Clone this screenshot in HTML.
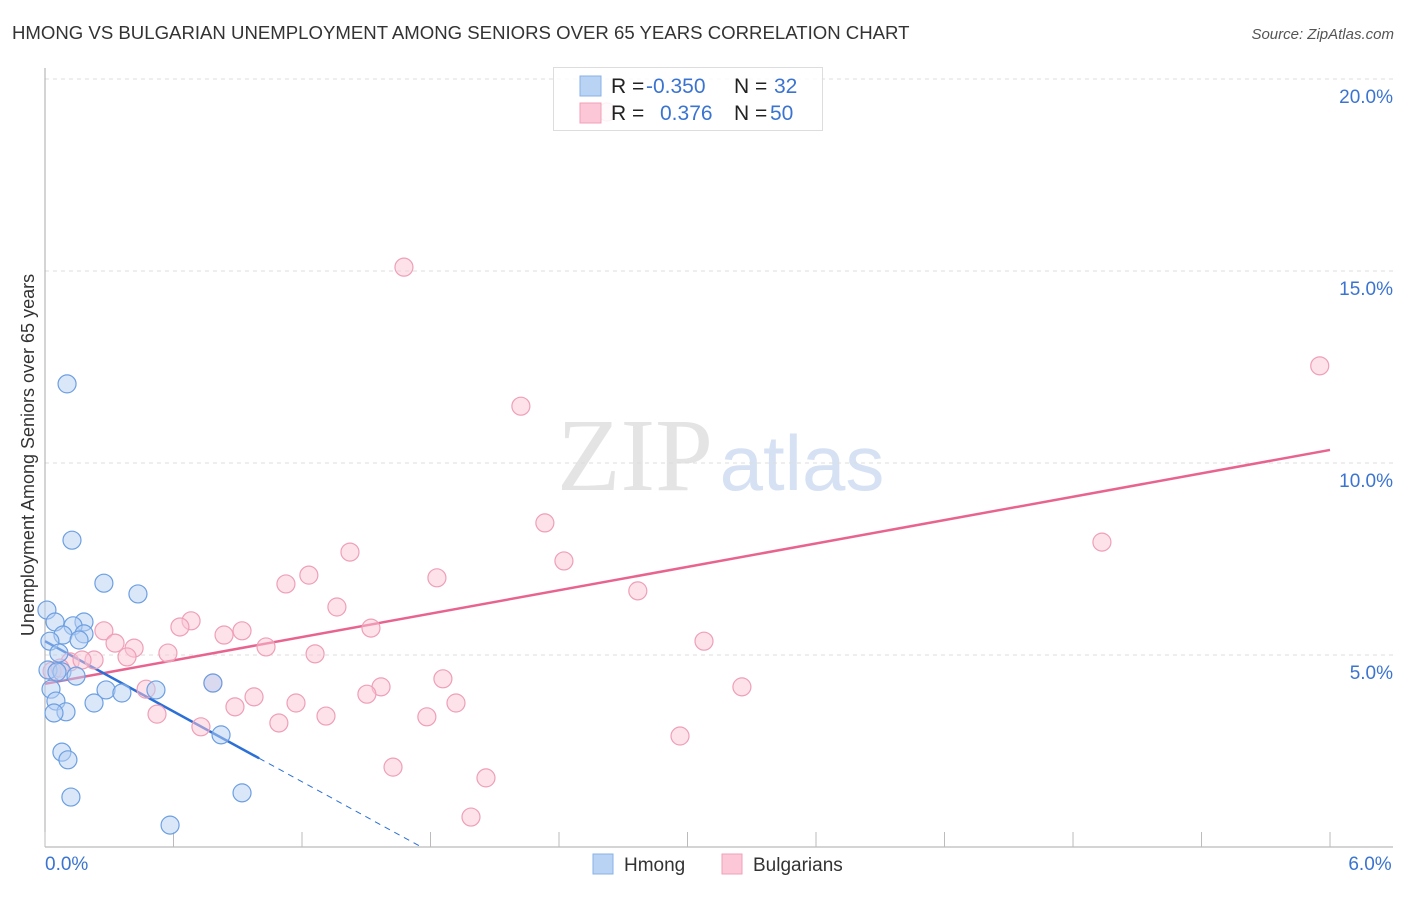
<!DOCTYPE html>
<html><head><meta charset="utf-8"><style>
body{margin:0;background:#fff;font-family:"Liberation Sans",sans-serif;}
</style></head><body>
<svg id="chart" width="1406" height="892" xmlns="http://www.w3.org/2000/svg" font-family="Liberation Sans, sans-serif">
<text x="12" y="39" font-size="18.6" fill="#333">HMONG VS BULGARIAN UNEMPLOYMENT AMONG SENIORS OVER 65 YEARS CORRELATION CHART</text>
<text x="1394" y="39" font-size="15" fill="#555" text-anchor="end" font-style="italic">Source: ZipAtlas.com</text>
<g>
<text x="635" y="490" font-size="104" font-family="Liberation Serif, serif" fill="#e4e4e4" text-anchor="middle">ZIP</text>
<text x="802" y="490" font-size="78" fill="#d6e2f4" text-anchor="middle">atlas</text>
</g>
<g id="grid"></g>
<g id="axes"></g>
<g id="lines"></g>
<g id="points"></g>
<g>
<rect x="553.5" y="67.5" width="269" height="63" fill="#fff" fill-opacity="0.85" stroke="#ddd"/>
<rect x="580" y="76" width="21" height="20" fill="#b9d3f5" stroke="#8ab0e8"/>
<rect x="580" y="103" width="21" height="20" fill="#fcc8d8" stroke="#f0a0b8"/>
<text x="611" y="93" font-size="21" fill="#222">R =</text>
<text x="646" y="93" font-size="21" fill="#3b74d0">-0.350</text>
<text x="734" y="93" font-size="21" fill="#222">N =</text>
<text x="774" y="93" font-size="21" fill="#3b74d0">32</text>
<text x="611" y="120" font-size="21" fill="#222">R =</text>
<text x="660" y="120" font-size="21" fill="#3b74d0">0.376</text>
<text x="734" y="120" font-size="21" fill="#222">N =</text>
<text x="770" y="120" font-size="21" fill="#3b74d0">50</text>
</g>
<g>
<rect x="593" y="854" width="20" height="20" fill="#b9d3f5" stroke="#8ab0e8"/>
<text x="624" y="871" font-size="19" fill="#333">Hmong</text>
<rect x="722" y="854" width="20" height="20" fill="#fcc8d8" stroke="#f0a0b8"/>
<text x="753" y="871" font-size="19" fill="#333">Bulgarians</text>
</g>
<text transform="translate(34,455) rotate(-90)" font-size="18" fill="#333" text-anchor="middle">Unemployment Among Seniors over 65 years</text>
</svg>
<script>
const hmongX=[0.103,0.126,0.275,0.434,0.009,0.047,0.182,0.131,0.084,0.182,0.159,0.023,0.065,0.014,0.079,0.056,0.145,0.028,0.285,0.359,0.518,0.229,0.051,0.098,0.042,0.784,0.822,0.079,0.107,0.121,0.920,0.584];
const hmongY=[12.06,7.99,6.87,6.59,6.17,5.86,5.86,5.76,5.52,5.55,5.39,5.36,5.05,4.61,4.56,4.56,4.45,4.11,4.09,4.01,4.09,3.75,3.80,3.52,3.49,4.27,2.92,2.47,2.27,1.30,1.41,0.57];
const bulgX=[1.676,5.952,2.222,2.334,4.935,1.424,2.423,1.232,1.830,1.125,2.768,1.363,0.682,0.630,0.275,0.920,1.522,0.836,0.327,0.416,1.032,3.077,0.574,1.261,0.383,0.229,0.117,0.173,0.033,0.070,0.784,1.858,1.569,0.472,1.503,3.254,0.976,1.172,0.887,1.919,0.523,1.312,1.783,0.728,1.092,2.965,1.625,2.059,1.989,2.624];
const bulgY=[15.10,12.53,11.48,8.44,7.94,7.68,7.45,7.08,7.01,6.85,6.67,6.25,5.89,5.73,5.63,5.63,5.70,5.52,5.31,5.18,5.21,5.36,5.05,5.03,4.95,4.87,4.82,4.87,4.58,4.66,4.27,4.38,4.17,4.11,3.98,4.17,3.91,3.75,3.65,3.75,3.46,3.41,3.39,3.13,3.23,2.89,2.08,1.80,0.78,19.14];
const yTicks=[5,10,15,20];
const yTickLabels=["5.0%","10.0%","15.0%","20.0%"];
const xTicks=[0,0.6,1.2,1.8,2.4,3.0,3.6,4.2,4.8,5.4,6.0];
const xEndLabels=["0.0%","6.0%"];
const bulgTrend=[4.25,10.34];
const hmongTrend=[5.36,-3.05];

const NS="http://www.w3.org/2000/svg";
const X=v=>45+v*214.17, Y=v=>847-v*38.4;
function mk(tag,attrs,parent){const e=document.createElementNS(NS,tag);for(const k in attrs)e.setAttribute(k,attrs[k]);document.getElementById(parent).appendChild(e);return e;}
yTicks.forEach((t,i)=>{
  const l=mk('line',{x1:45,x2:1393,y1:Y(t),y2:Y(t),stroke:'#ddd','stroke-dasharray':'4,4'},'grid');
  
  
  const tx=mk('text',{x:1393,y:Y(t)+24,'font-size':19,fill:'#3b74d0','text-anchor':'end'},'grid');
  tx.textContent=yTickLabels[i];
  
  
});
const ax=mk('line',{x1:45,x2:45,y1:68,y2:847,stroke:'#aaa'},'axes');


const bx=mk('line',{x1:45,x2:1393,y1:847,y2:847,stroke:'#aaa'},'axes');


xTicks.forEach(t=>{
  const l=mk('line',{x1:X(t),x2:X(t),y1:832,y2:847,stroke:'#bbb'},'axes');
  
  
});
[[0,'start',45],[6,'middle',1370]].forEach((d,i)=>{
  const tx=mk('text',{x:d[2],y:870,'font-size':19,fill:'#3b74d0','text-anchor':d[1]},'axes');
  tx.textContent=xEndLabels[i];
  
  
});
function pts(xs,ys,fill,stroke,name){
  xs.forEach((x,i)=>{
    const c=mk('circle',{cx:X(x),cy:Y(ys[i]),r:9,fill:fill,'fill-opacity':0.5,stroke:stroke,'stroke-width':1.2},'points');
    
    
  });
}
pts(bulgX,bulgY,'#fbc6d6','#ef9fb8','bulgarian-point');
pts(hmongX,hmongY,'#b6d0f4','#6c9fe2','hmong-point');
const pl=mk('line',{x1:X(0),y1:Y(bulgTrend[0]),x2:X(6),y2:Y(bulgTrend[1]),stroke:'#e8648f','stroke-width':2.5},'lines');


const hy=x=>hmongTrend[0]+hmongTrend[1]*x;
const hl=mk('line',{x1:X(0),y1:Y(hy(0)),x2:X(1.0),y2:Y(hy(1.0)),stroke:'#2c6fd6','stroke-width':2.5},'lines');


const xe=-hmongTrend[0]/hmongTrend[1];
const hd=mk('line',{x1:X(1.0),y1:Y(hy(1.0)),x2:X(xe),y2:Y(0),stroke:'#2c6fd6','stroke-width':1,'stroke-dasharray':'6,5'},'lines');


</script>
</body></html>
